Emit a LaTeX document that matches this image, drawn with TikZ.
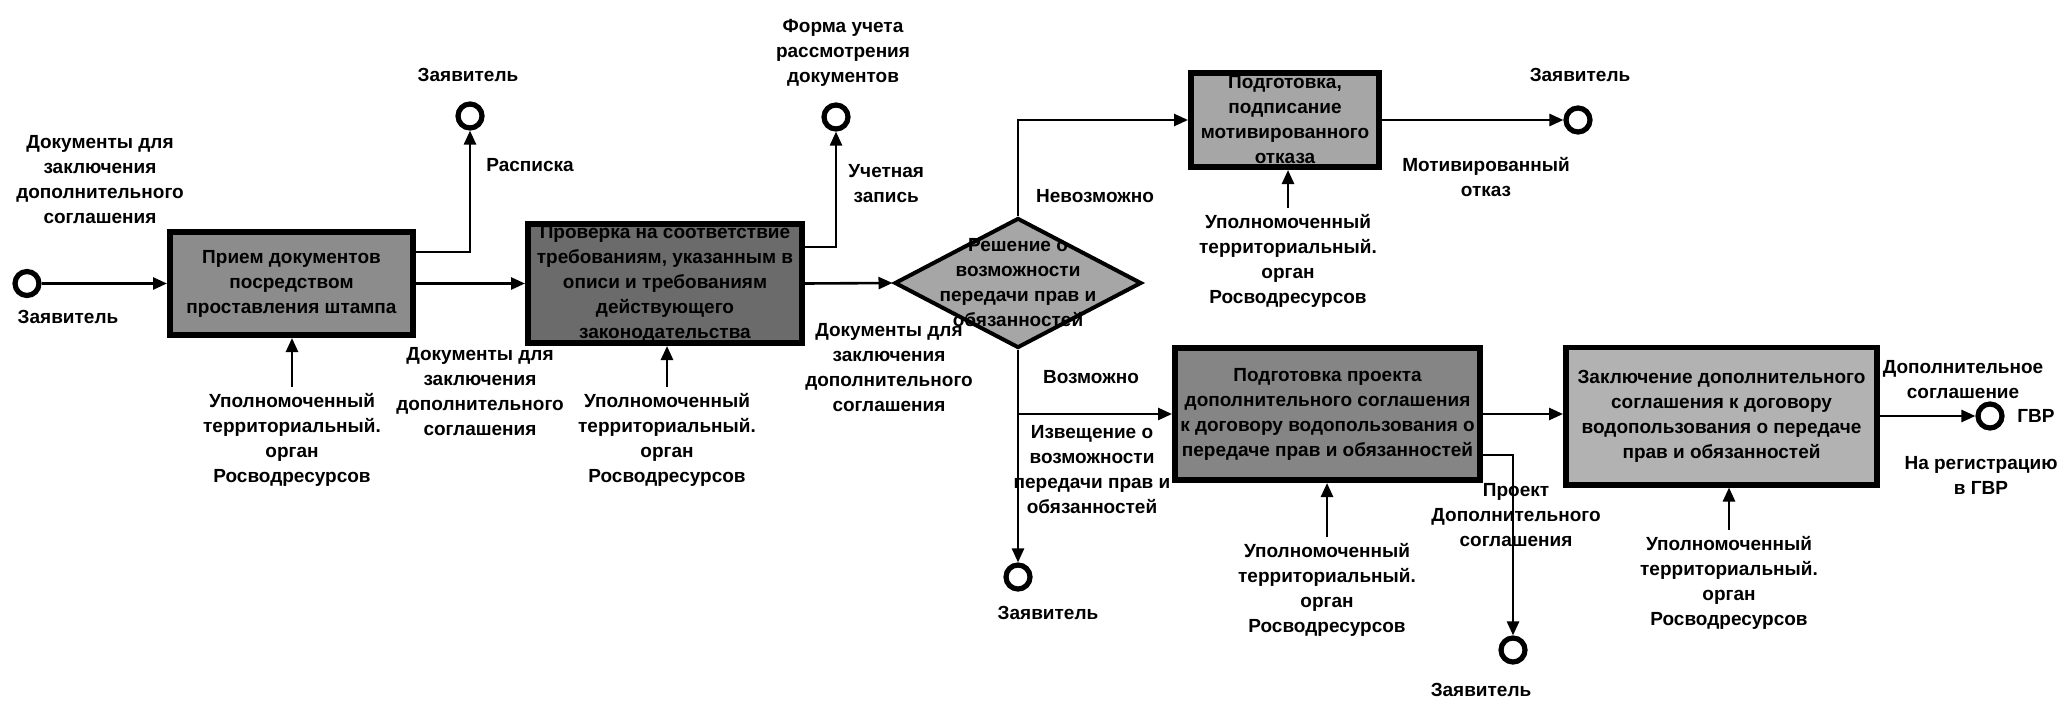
\documentclass[tikz,border=0pt]{standalone}
\usepackage{fontspec}
\setmainfont{Liberation Sans}
\usetikzlibrary{shapes.geometric,arrows.meta,calc}
\begin{document}
\begin{tikzpicture}[x=0.5pt,y=-0.5pt,
  txt/.style={font=\bfseries\fontsize{9.5}{12.5}\selectfont},
  lbl/.style={txt, align=center, inner sep=0pt},
  proc/.style={draw, line width=2.8pt, txt, align=center, inner sep=0pt},
  dec/.style={diamond, draw, line width=2pt, inner sep=0pt},
  ev/.style={circle, draw, line width=2.6pt, fill=white, minimum size=12pt, inner sep=0pt},
  arr/.style={line width=1.3pt, -{Triangle[length=7pt,width=6pt]}},
]
\useasboundingbox (0,0) rectangle (2064,701);

% ---------- processes ----------
\node[proc, fill=black!45, minimum width=121.7pt, minimum height=51.7pt] (b1) at (291.5,283.5)
  {Прием документов\\посредством\\проставления штампа};
\node[proc, fill=black!58, minimum width=137.2pt, minimum height=59.7pt] (b2) at (665,283.5)
  {Проверка на соответствие\\требованиям, указанным в\\описи и требованиям\\действующего\\законодательства};
\node[dec, fill=black!35, minimum width=123.5pt, minimum height=65pt] (dm) at (1018,283) {};
\node[lbl] (dmt) at (dm.center) {Решение о\\возможности\\передачи прав и\\обязанностей};
\node[proc, fill=black!35, minimum width=94.2pt, minimum height=47.2pt] (b3) at (1285,120)
  {Подготовка,\\подписание\\мотивированного\\отказа};
\node[proc, fill=black!48, minimum width=152.7pt, minimum height=66.2pt] (b4) at (1327.5,414)
  {Подготовка проекта\\дополнительного соглашения\\к договору водопользования о\\передаче прав и обязанностей};
\node[proc, fill=black!30, minimum width=155.7pt, minimum height=68.7pt] (b5) at (1721.5,416)
  {Заключение дополнительного\\соглашения к договору\\водопользования о передаче\\прав и обязанностей};

% ---------- events ----------
\node[ev] (s0) at (27,283.5) {};
\node[ev] (c1) at (470,116) {};
\node[ev] (c2) at (836,117) {};
\node[ev] (c3) at (1578,120) {};
\node[ev] (c4) at (1018,577) {};
\node[ev] (c5) at (1513,650) {};
\node[ev] (c6) at (1990,416) {};

% ---------- labels ----------
\node[lbl] (s0l) at (68,317) {Заявитель};
\node[lbl] (l1) at (100,180) {Документы для\\заключения\\дополнительного\\соглашения};
\node[lbl] (c1l) at (468,75) {Заявитель};
\node[lbl, anchor=west] (rl) at (486,165) {Расписка};
\node[lbl] (c2l) at (843,53) {Форма учета\\рассмотрения\\документов};
\node[lbl, anchor=west] (ul) at (848,184) {Учетная\\запись};
\node[lbl] (l12) at (480,392) {Документы для\\заключения\\дополнительного\\соглашения};
\node[lbl] (m1) at (292,440) {Уполномоченный\\территориальный.\\орган\\Росводресурсов};
\node[lbl] (m2) at (667,440) {Уполномоченный\\территориальный.\\орган\\Росводресурсов};
\node[lbl] (l2d) at (889,368) {Документы для\\заключения\\дополнительного\\соглашения};
\node[lbl] (nl) at (1095,196) {Невозможно};
\node[lbl] (vl) at (1091,377) {Возможно};
\node[lbl] (il) at (1092,470) {Извещение о\\возможности\\передачи прав и\\обязанностей};
\node[lbl] (c4l) at (1048,613) {Заявитель};
\node[lbl] (c3l) at (1580,75) {Заявитель};
\node[lbl] (ml) at (1486,177) {Мотивированный\\отказ};
\node[lbl] (m3) at (1288,261) {Уполномоченный\\территориальный.\\орган\\Росводресурсов};
\node[lbl] (m4) at (1327,590) {Уполномоченный\\территориальный.\\орган\\Росводресурсов};
\node[lbl] (pl) at (1516,515) {Проект\\Дополнительного\\соглашения};
\node[lbl] (c5l) at (1481,690) {Заявитель};
\node[lbl] (m5) at (1729,583) {Уполномоченный\\территориальный.\\орган\\Росводресурсов};
\node[lbl] (dl) at (1963,380) {Дополнительное\\соглашение};
\node[lbl, anchor=west] (gl) at (2017,416) {ГВР};
\node[lbl] (rg) at (1981,475) {На регистрацию\\в ГВР};

% ---------- connectors ----------
\draw[arr] (s0.east) -- (s0.east -| b1.west);
\draw[arr] ([yshift=15.75pt]b1.east) -| (c1.south);
\draw[arr] (b1.east) -- (b1.east -| b2.west);
\draw[arr] ([yshift=18.25pt]b2.east) -| (c2.south);
\draw[arr] (b2.east) -- (dm.west);
\draw[arr] (dm.north) |- (b3.west);
\draw[arr] (b3.east) -- (c3.west);
\draw[arr] (dm.south) -- (c4.north);
\draw[arr] (dm.south |- b4.west) -- (b4.west);
\draw[arr] (b4.east) -- (b4.east -| b5.west);
\draw[arr] ([yshift=-20.5pt]b4.east) -| (c5.north);
\draw[arr] (b5.east) -- (c6.west);
% mechanisms
\draw[arr] ([yshift=3pt]m1.north) -- (m1.north |- b1.south);
\draw[arr] ([yshift=3pt]m2.north) -- (m2.north |- b2.south);
\draw[arr] ([yshift=3pt]m3.north) -- (m3.north |- b3.south);
\draw[arr] ([yshift=3pt]m4.north) -- (m4.north |- b4.south);
\draw[arr] ([yshift=3pt]m5.north) -- (m5.north |- b5.south);
\end{tikzpicture}
\end{document}
